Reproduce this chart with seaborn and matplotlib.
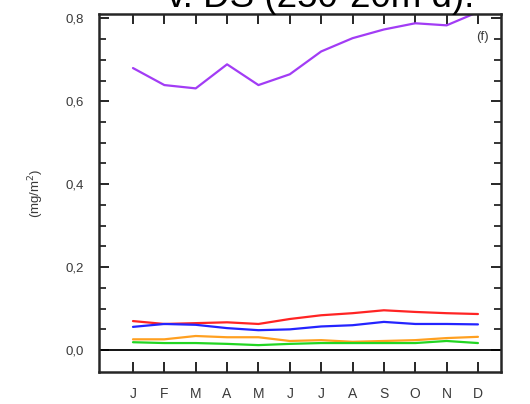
import matplotlib
matplotlib.use("Agg")
import matplotlib.pyplot as plt
import seaborn as sns
import pandas as pd

months = ['J', 'F', 'M', 'A', 'M', 'J', 'J', 'A', 'S', 'O', 'N', 'D']

# monthly values (mg/m^2)
purple = [0.680, 0.639, 0.631, 0.689, 0.639, 0.665, 0.720, 0.752, 0.773, 0.788, 0.783, 0.815]
red = [0.070, 0.063, 0.065, 0.067, 0.063, 0.075, 0.084, 0.089, 0.096, 0.092, 0.089, 0.087]
blue = [0.056, 0.063, 0.061, 0.053, 0.048, 0.050, 0.057, 0.060, 0.068, 0.063, 0.063, 0.062]
orange = [0.026, 0.026, 0.034, 0.031, 0.031, 0.022, 0.024, 0.020, 0.022, 0.024, 0.029, 0.032]
green = [0.019, 0.017, 0.017, 0.015, 0.012, 0.015, 0.017, 0.017, 0.017, 0.017, 0.022, 0.017]

series = {'purple': purple, 'red': red, 'blue': blue, 'orange': orange, 'green': green}
colours = {'purple': '#a23cf5', 'red': '#ff2424', 'blue': '#2424ff',
           'orange': '#ffa020', 'green': '#22d622'}

rows = []
for name, vals in series.items():
    for i, v in enumerate(vals):
        rows.append({'month': i, 'value': v, 'series': name})
df = pd.DataFrame(rows)

sns.set_style('ticks')
plt.rcParams['font.family'] = ['Liberation Sans', 'DejaVu Sans']

fig = plt.figure(figsize=(5.30, 4.04), dpi=100)
ax = fig.add_axes([0.187, 0.079, 0.758, 0.886])

sns.lineplot(data=df, x='month', y='value', hue='series', palette=colours,
             linewidth=1.6, legend=False, ax=ax)

ax.axhline(0, color='black', linewidth=1.3)

ax.set_xlim(-1.08, 11.73)
ax.set_ylim(-0.053, 0.81)
ax.set_xticks(range(12))
ax.set_xticklabels(months)
ax.set_yticks([0.0, 0.2, 0.4, 0.6, 0.8])
ax.set_yticklabels(['0,0', '0,2', '0,4', '0,6', '0,8'])
ax.set_yticks([0.05, 0.1, 0.15, 0.25, 0.3, 0.35, 0.45, 0.5, 0.55, 0.65, 0.7, 0.75], minor=True)

ax.tick_params(axis='x', direction='in', length=7, width=1.4, top=True, bottom=True,
               labelsize=10, labelcolor='#3a3a3a', pad=11)
ax.tick_params(axis='y', which='major', direction='in', length=7, width=1.4,
               left=True, right=True, labelsize=9.5, labelcolor='#3a3a3a', pad=11)
ax.tick_params(axis='y', which='minor', direction='in', length=5, width=1.3,
               left=True, right=True)
for s in ax.spines.values():
    s.set_linewidth(1.8)
    s.set_visible(True)

ax.set_xlabel('')
ax.set_ylabel('(mg/m$^2$)', fontsize=9.5, color='#3a3a3a', labelpad=14)
ax.text(0.955, 0.935, '(f)', transform=ax.transAxes, fontsize=9.5, color='#3a3a3a',
        ha='center', va='center')

# title of the panel, cut off at the top as in the source figure
fig.text(0.606, 0.982, 'v. DS (250-20m d).', fontsize=26.5, ha='center', va='baseline',
         color='black')

fig.savefig('out.png', dpi=100)
